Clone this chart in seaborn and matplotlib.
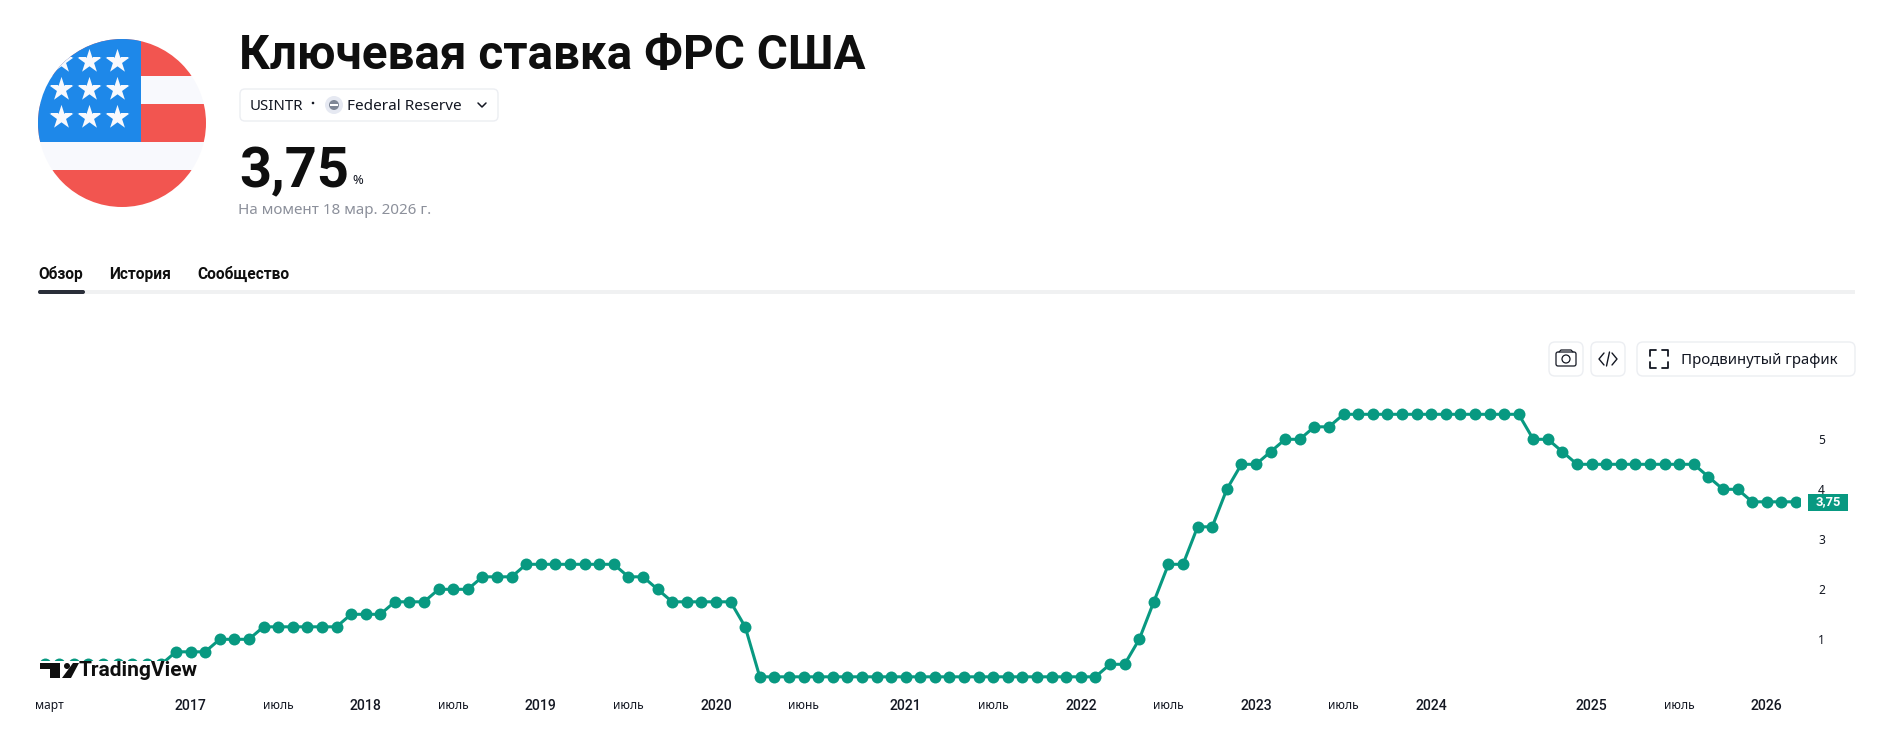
import matplotlib
matplotlib.use('Agg')
import matplotlib.pyplot as plt
from matplotlib.patches import Circle, FancyBboxPatch, Polygon, Rectangle
from matplotlib.transforms import ScaledTranslation
import seaborn as sns

sns.set_theme(style='white')
plt.rcParams['font.family'] = ['Noto Sans', 'DejaVu Sans']
HEAVY = ['Roboto', 'DejaVu Sans']  # Noto Sans has no bold here

# monthly points, March 2020 is there twice and August 2024 is missing
months = [
    '2016-03', '2016-04', '2016-05', '2016-06', '2016-07', '2016-08', '2016-09', '2016-10', '2016-11', '2016-12',
    '2017-01', '2017-02', '2017-03', '2017-04', '2017-05', '2017-06', '2017-07', '2017-08', '2017-09', '2017-10', '2017-11', '2017-12',
    '2018-01', '2018-02', '2018-03', '2018-04', '2018-05', '2018-06', '2018-07', '2018-08', '2018-09', '2018-10', '2018-11', '2018-12',
    '2019-01', '2019-02', '2019-03', '2019-04', '2019-05', '2019-06', '2019-07', '2019-08', '2019-09', '2019-10', '2019-11', '2019-12',
    '2020-01', '2020-02', '2020-03', '2020-03b', '2020-04', '2020-05', '2020-06', '2020-07', '2020-08', '2020-09', '2020-10', '2020-11', '2020-12',
    '2021-01', '2021-02', '2021-03', '2021-04', '2021-05', '2021-06', '2021-07', '2021-08', '2021-09', '2021-10', '2021-11', '2021-12',
    '2022-01', '2022-02', '2022-03', '2022-04', '2022-05', '2022-06', '2022-07', '2022-08', '2022-09', '2022-10', '2022-11', '2022-12',
    '2023-01', '2023-02', '2023-03', '2023-04', '2023-05', '2023-06', '2023-07', '2023-08', '2023-09', '2023-10', '2023-11', '2023-12',
    '2024-01', '2024-02', '2024-03', '2024-04', '2024-05', '2024-06', '2024-07', '2024-09', '2024-10', '2024-11', '2024-12',
    '2025-01', '2025-02', '2025-03', '2025-04', '2025-05', '2025-06', '2025-07', '2025-08', '2025-09', '2025-10', '2025-11', '2025-12',
    '2026-01', '2026-02', '2026-03',
]
rates = [
    0.5, 0.5, 0.5, 0.5, 0.5, 0.5, 0.5, 0.5, 0.5, 0.75,
    0.75, 0.75, 1.0, 1.0, 1.0, 1.25, 1.25, 1.25, 1.25, 1.25, 1.25, 1.5,
    1.5, 1.5, 1.75, 1.75, 1.75, 2.0, 2.0, 2.0, 2.25, 2.25, 2.25, 2.5,
    2.5, 2.5, 2.5, 2.5, 2.5, 2.5, 2.25, 2.25, 2.0, 1.75, 1.75, 1.75,
    1.75, 1.75, 1.25, 0.25, 0.25, 0.25, 0.25, 0.25, 0.25, 0.25, 0.25, 0.25, 0.25,
    0.25, 0.25, 0.25, 0.25, 0.25, 0.25, 0.25, 0.25, 0.25, 0.25, 0.25, 0.25,
    0.25, 0.25, 0.5, 0.5, 1.0, 1.75, 2.5, 2.5, 3.25, 3.25, 4.0, 4.5,
    4.5, 4.75, 5.0, 5.0, 5.25, 5.25, 5.5, 5.5, 5.5, 5.5, 5.5, 5.5,
    5.5, 5.5, 5.5, 5.5, 5.5, 5.5, 5.5, 5.0, 5.0, 4.75, 4.5,
    4.5, 4.5, 4.5, 4.5, 4.5, 4.5, 4.5, 4.5, 4.25, 4.0, 4.0, 3.75,
    3.75, 3.75, 3.75,
]
tick_months = ['2016-03', '2017-01', '2017-07', '2018-01', '2018-07', '2019-01', '2019-07', '2020-01', '2020-06',
               '2021-01', '2021-07', '2022-01', '2022-07', '2023-01', '2023-07', '2024-01', '2025-01', '2025-07', '2026-01']
tick_labels = ['март', '2017', 'июль', '2018', 'июль', '2019', 'июль', '2020', 'июнь',
               '2021', 'июль', '2022', 'июль', '2023', 'июль', '2024', '2025', 'июль', '2026']
y_ticks = [1, 2, 3, 4, 5]

GREEN = '#089981'
INK = '#131722'
BLACK = '#0f0f0f'
W, H = 1882, 730


def px(size):
    return size * 0.72


fig = plt.figure(figsize=(W / 100, H / 100), dpi=100, facecolor='white')

# %% chart, placed so one point step is about 14.6 px and one percent 50 px
left, right, top, bottom = 38, 1800, 390, 692
ax = fig.add_axes([left / W, 1 - bottom / H, (right - left) / W, (bottom - top) / H])
xs = list(range(len(rates)))
sns.lineplot(x=xs, y=rates, color=GREEN, linewidth=2.2, marker='o', markersize=8.6,
             markeredgewidth=0, ax=ax, errorbar=None)
ax.set_xlim((left - 44.6) / 14.595, (right - 44.6) / 14.595)
ax.set_ylim((689.3 - bottom) / 50, (689.3 - top) / 50)
sns.despine(ax=ax, left=True, bottom=True, top=True, right=True)
ax.set_facecolor('none')

ax.set_xticks([months.index(m) for m in tick_months])
ax.set_xticklabels(tick_labels)
ax.tick_params(axis='x', length=0, pad=5, colors=INK)
for lab, text in zip(ax.get_xticklabels(), tick_labels):
    if text.isdigit():
        lab.set_fontsize(px(14))
        lab.set_fontfamily(HEAVY)
        lab.set_fontweight('medium')
    else:
        lab.set_fontsize(px(12))
ax.get_xticklabels()[0].set_transform(
    ax.get_xticklabels()[0].get_transform() + ScaledTranslation(5 / 100, 0, fig.dpi_scale_trans))

ax.yaxis.tick_right()
ax.set_yticks(y_ticks)
ax.set_yticklabels([str(v) for v in y_ticks], fontsize=px(12))
ax.tick_params(axis='y', length=0, pad=13, colors=INK)

# %% page furniture in pixel coordinates
bg = fig.add_axes([0, 0, 1, 1], zorder=5)
bg.set_xlim(0, W)
bg.set_ylim(H, 0)
bg.axis('off')

# flag
flag = Circle((122, 123), 84, transform=bg.transData)
for y0, y1, col in [(39, 76, '#f25550'), (76, 104, '#f8f9fd'), (104, 142, '#f25550'),
                    (142, 170, '#f8f9fd'), (170, 207, '#f25550')]:
    p = Rectangle((38, y0), 168, y1 - y0, fc=col, ec='none')
    bg.add_patch(p)
    p.set_clip_path(flag)
p = Rectangle((38, 39), 103, 103, fc='#1e88e9', ec='none')
bg.add_patch(p)
p.set_clip_path(flag)
for sy in [61, 89, 117]:
    for sx in [61, 89, 117]:
        st = bg.scatter([sx], [sy], marker='*', s=330, color='#f8f9fd', linewidths=0, zorder=3)
        st.set_clip_path(flag)

# header text
bg.text(239, 56, 'Ключевая ставка ФРС США', family=HEAVY, fontsize=px(47.6), fontweight='bold', color=BLACK, va='center', ha='left')
bg.add_patch(FancyBboxPatch((240, 89), 258, 32, boxstyle='round,pad=0,rounding_size=5', fc='white', ec='#eceef2', lw=1))
bg.text(250, 106, 'USINTR', fontsize=px(15), color=INK, va='center')
bg.add_patch(Circle((313, 103), 1.3, fc=INK, ec='none'))
bg.add_patch(Circle((334, 105), 9, fc='#e6e9f2', ec='none'))
bg.add_patch(Circle((334, 105), 5, fc='#7f8796', ec='none'))
bg.add_patch(Rectangle((330, 104), 8, 2, fc='white', ec='none'))
bg.text(347, 106, 'Federal Reserve', fontsize=px(15.3), color=INK, va='center')
bg.plot([478, 482, 486], [103, 107, 103], color=INK, lw=1.1)

bg.text(239, 172, '3,75', family=HEAVY, fontsize=px(56), fontweight='bold', color=BLACK, va='center')
bg.text(352, 181, '%', fontsize=px(13), color=INK, va='center')
bg.text(238, 211, 'На момент 18 мар. 2026 г.', fontsize=px(15.2), color='#8c909b', va='center')

# tabs
for tx, label in [(38, 'Обзор'), (109, 'История'), (197, 'Сообщество')]:
    bg.text(tx, 274, label, family=HEAVY, fontsize=px(15.5), fontweight='bold', color=BLACK, va='center')
bg.add_patch(Rectangle((38, 290), 1817, 4, fc='#f0f1f2', ec='none'))
bg.add_patch(FancyBboxPatch((38, 290), 47, 4, boxstyle='round,pad=0,rounding_size=2', fc='#2a2e39', ec='none'))

# buttons
for bx, bw in [(1549, 34), (1591, 34), (1637, 218)]:
    bg.add_patch(FancyBboxPatch((bx, 342), bw, 34, boxstyle='round,pad=0,rounding_size=6', fc='white', ec='#eceef2', lw=1))
bg.add_patch(FancyBboxPatch((1556, 352), 20, 14, boxstyle='round,pad=0,rounding_size=2', fc='none', ec=INK, lw=0.9))
bg.plot([1559, 1561, 1571, 1573], [352, 350, 350, 352], color=INK, lw=0.9)
bg.add_patch(Circle((1566, 359), 4, fc='none', ec=INK, lw=0.9))
bg.plot([1604, 1599, 1604], [353, 359, 365], color=INK, lw=1)
bg.plot([1612, 1617, 1612], [353, 359, 365], color=INK, lw=1)
bg.plot([1609.5, 1606.5], [352, 366], color=INK, lw=1)
for cx, cy, dx, dy in [(1650, 350, 1, 1), (1668, 350, -1, 1), (1650, 368, 1, -1), (1668, 368, -1, -1)]:
    bg.plot([cx, cx, cx + 6 * dx], [cy + 6 * dy, cy, cy], color=INK, lw=1.3)
bg.text(1681, 361, 'Продвинутый график', fontsize=px(15), color=INK, va='center')

# price tag
bg.add_patch(Rectangle((1808, 494), 40, 17, fc=GREEN, ec='none'))
bg.text(1828, 502, '3,75', family=HEAVY, fontsize=px(13), fontweight='bold', color='white', va='center', ha='center')

# TradingView mark, it sits on a white plate and hides the first points
bg.add_patch(Rectangle((38, 661), 160, 24, fc='white', ec='none'))
bg.add_patch(Polygon([(40, 663), (60, 663), (60, 678), (50, 678), (50, 669), (40, 669)], fc=BLACK, ec='none'))
bg.add_patch(Circle((67, 666), 3, fc=BLACK, ec='none'))
bg.add_patch(Polygon([(73, 663), (79, 663), (71, 678), (62, 678)], fc=BLACK, ec='none'))
bg.text(79, 671, 'TradingView', family=HEAVY, fontsize=px(21), fontweight='bold', color=BLACK, va='center')

fig.savefig('out.png', dpi=100)
